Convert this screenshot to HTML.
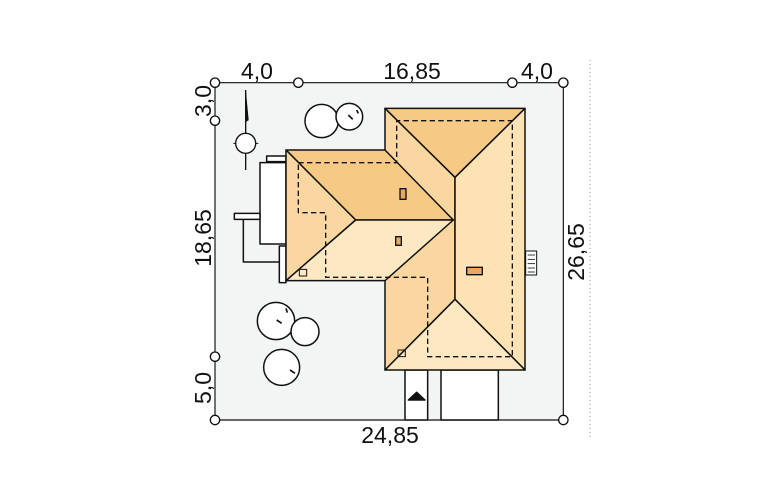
<!DOCTYPE html>
<html><head><meta charset="utf-8"><style>
html,body{margin:0;padding:0;background:#fff;}
svg{display:block;}
text{font-family:"Liberation Sans",sans-serif;font-size:23px;fill:#111;}
</style></head><body>
<svg width="780" height="503" viewBox="0 0 780 503" xmlns="http://www.w3.org/2000/svg">
<rect x="215" y="83" width="348" height="337" fill="#f3f4f4"/>
<line x1="590" y1="60" x2="590" y2="440" stroke="#999" stroke-width="1" stroke-dasharray="1,3"/>
<g transform="translate(200,60) scale(0.3333333)" stroke="#111" stroke-width="4.5" stroke-linejoin="round">
  <line x1="45" y1="68" x2="1090" y2="68" stroke-width="3.5"/>
  <line x1="45" y1="1080" x2="1090" y2="1080" stroke-width="3.5"/>
  <line x1="45" y1="68" x2="45" y2="1080" stroke-width="3.5"/>
  <line x1="1090" y1="68" x2="1090" y2="1080" stroke-width="3.5"/>
  <g fill="#fff" stroke-width="4">
    <circle cx="45" cy="68" r="14"/><circle cx="295" cy="68" r="14"/><circle cx="937" cy="68" r="14"/><circle cx="1090" cy="68" r="14"/>
    <circle cx="45" cy="182" r="14"/><circle cx="45" cy="890" r="14"/><circle cx="45" cy="1080" r="14"/><circle cx="1090" cy="1080" r="14"/>
  </g>
  <line x1="137" y1="90" x2="137" y2="330" stroke-width="4"/>
  <polygon points="137,95 145,180 137,185" fill="#111" stroke-width="2"/>
  <line x1="100" y1="250" x2="175" y2="250" stroke-width="3"/>
  <circle cx="137" cy="250" r="30" fill="#fff" stroke-width="4"/>
  <g fill="#fff" stroke-width="4.5">
    <circle cx="365" cy="183" r="50"/>
    <circle cx="448" cy="170" r="40"/>
    <circle cx="228" cy="783" r="56"/>
    <circle cx="315" cy="815" r="42"/>
    <circle cx="245" cy="922" r="54"/>
  </g>
  <g stroke-width="5">
    <line x1="445" y1="165" x2="458" y2="178"/><line x1="470" y1="150" x2="475" y2="160"/>
    <line x1="230" y1="780" x2="245" y2="790"/><line x1="258" y1="745" x2="262" y2="758"/>
    <line x1="270" y1="930" x2="285" y2="940"/>
  </g>
  <rect x="200" y="288" width="58" height="17" fill="#fff"/>
  <polyline points="130,478 130,606 238,606" fill="none"/>
  <rect x="180" y="308" width="78" height="244" fill="#fff"/>
  <rect x="103" y="460" width="77" height="18" fill="#fff"/>
  <rect x="238" y="558" width="20" height="110" fill="#fff"/>
  <rect x="977" y="573" width="33" height="72" fill="#fff" stroke-width="3"/>
  <line x1="983" y1="585" x2="1005" y2="585" stroke-width="2.5"/><line x1="983" y1="598" x2="1005" y2="598" stroke-width="2.5"/><line x1="983" y1="611" x2="1005" y2="611" stroke-width="2.5"/><line x1="983" y1="624" x2="1005" y2="624" stroke-width="2.5"/><line x1="983" y1="636" x2="1005" y2="636" stroke-width="2.5"/>
  <rect x="615" y="930" width="68" height="150" fill="#fff"/>
  <rect x="723" y="930" width="172" height="150" fill="#fff"/>
  <polygon points="625,1020 650,997 675,1020" fill="#111"/>
  <polygon points="555,145 765,352 765,718 555,930" fill="#fad7a0"/>
  <polygon points="975,145 765,352 765,718 975,930" fill="#fde3b3"/>
  <polygon points="555,145 975,145 765,352" fill="#f6c985"/>
  <polygon points="555,930 975,930 765,718" fill="#fde8c2"/>
  <polygon points="258,270 555,270 760,480 467,480" fill="#f6c985"/>
  <polygon points="258,270 467,480 258,662" fill="#fad7a0"/>
  <polygon points="258,662 467,480 760,480 555,662" fill="#fde8c2"/>
  <polyline points="295,308 590,308 590,182 937,182 937,890 683,890 683,652 377,652 377,458 295,458 295,308" fill="none" stroke-width="4" stroke-dasharray="16,10"/>
  <rect x="600" y="386" width="18" height="32" fill="#e8a860" stroke-width="4"/>
  <rect x="587" y="530" width="17" height="26" fill="#e8a860" stroke-width="4"/>
  <rect x="800" y="622" width="47" height="22" fill="#e8a860" stroke-width="4"/>
  <rect x="298" y="628" width="22" height="20" fill="none" stroke-width="3"/>
  <rect x="594" y="870" width="22" height="20" fill="none" stroke-width="3"/>
</g>
<text x="257" y="79" text-anchor="middle">4,0</text>
<text x="412" y="79" text-anchor="middle">16,85</text>
<text x="537" y="79" text-anchor="middle">4,0</text>
<text x="390" y="443" text-anchor="middle">24,85</text>
<text transform="translate(211,101) rotate(-90)" text-anchor="middle">3,0</text>
<text transform="translate(211,238) rotate(-90)" text-anchor="middle">18,65</text>
<text transform="translate(211,388) rotate(-90)" text-anchor="middle">5,0</text>
<text transform="translate(584,252) rotate(-90)" text-anchor="middle">26,65</text>
</svg>
</body></html>
